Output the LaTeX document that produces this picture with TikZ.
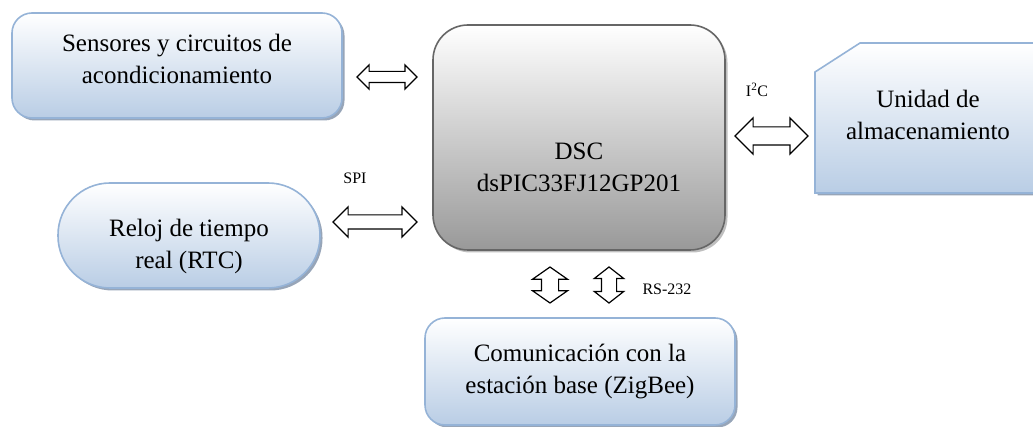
\documentclass[tikz,border=0pt]{standalone}
\usepackage{fontspec}
\setmainfont{Liberation Serif}
\usetikzlibrary{shapes.arrows,shadows}

\definecolor{blaurand}{HTML}{95B3D7}
\definecolor{blaufill}{HTML}{B9CDE5}
\definecolor{blauschatten}{HTML}{97A5B8}
\definecolor{graurand}{HTML}{666666}

\begin{document}
\begin{tikzpicture}
		[
		x=1pt, y=-1pt, font=\fontsize{25}{32}\selectfont,
		%Voreinstellung für Bloecke
		block/.style={draw=blaurand, line width=1.6pt, top color=white, bottom color=blaufill, align=center, inner sep=0pt,
			drop shadow={shadow xshift=2.5pt, shadow yshift=-2.5pt, fill=blauschatten, opacity=1}},
		pfeil/.style={double arrow, draw=black, line width=1.2pt, fill=white, inner xsep=0pt, double arrow tip angle=90},
		etikett/.style={font=\fontsize{16}{18}\selectfont}
		]
		
		\useasboundingbox (0,0) rectangle (1033,427);
		
		%DSC
		\node[draw=graurand, line width=1.6pt, top color=white, bottom color=black!40, rounded corners=35pt,
			minimum width=292pt, minimum height=225pt,
			drop shadow={shadow xshift=2.5pt, shadow yshift=-2.5pt, fill=black!25, opacity=1}] (dsc) at (579,137.5) {};
		\node[align=center] (dsctxt) at (579,167) {DSC\\dsPIC33FJ12GP201};
		
		%Sensores
		\node[block, rounded corners=20pt, minimum width=330pt, minimum height=105pt] (sens) at (177,65.5) {};
		\node[align=center] (senstxt) at (177,59) {Sensores y circuitos de\\acondicionamiento};
		
		%Reloj
		\node[block, rounded corners=52pt, minimum width=262pt, minimum height=105pt] (rtc) at (189,235.5) {};
		\node[align=center] (rtctxt) at (189,246) {Reloj de tiempo\\real (RTC)};
		
		%Unidad de almacenamiento
		\path[draw=blaurand, line width=1.6pt, top color=white, bottom color=blaufill,
			drop shadow={shadow xshift=2.5pt, shadow yshift=-2.5pt, fill=blauschatten, opacity=1}]
			(815,72) -- (860,43) -- (1045,43) -- (1045,193) -- (815,193) -- cycle;
		\node[align=center] (mem) at (928,115) {Unidad de\\almacenamiento};
		
		%Comunicacion
		\node[block, rounded corners=20pt, minimum width=310pt, minimum height=107pt] (com) at (580,371.5) {Comunicación con la\\estación base (ZigBee)};
		
		%Pfeile (inner ysep = halbe Schaftbreite)
		\node[pfeil, minimum height=60pt, inner ysep=5pt, double arrow head extend=6.5pt] (p1) at (387,77) {};
		\node[pfeil, minimum height=84pt, inner ysep=6.5pt, double arrow head extend=8pt] (p2) at (375,222) {};
		\node[pfeil, minimum height=73pt, inner ysep=8.5pt, double arrow head extend=9pt] (p3) at (771.5,136) {};
		\node[pfeil, rotate=90, double arrow tip angle=110, minimum height=36pt, inner ysep=8pt, double arrow head extend=9pt] (p4) at (550,285) {};
		\node[pfeil, rotate=90, double arrow tip angle=104, minimum height=36pt, inner ysep=7pt, double arrow head extend=7pt] (p5) at (609,285) {};
		
		%Beschriftung
		\node[etikett] (spi) at (355,178) {SPI};
		\node[etikett] (i2c) at (757,90) {I\textsuperscript{2}C};
		\node[etikett] (rs) at (667,289) {RS-232};
	\end{tikzpicture}
\end{document}
